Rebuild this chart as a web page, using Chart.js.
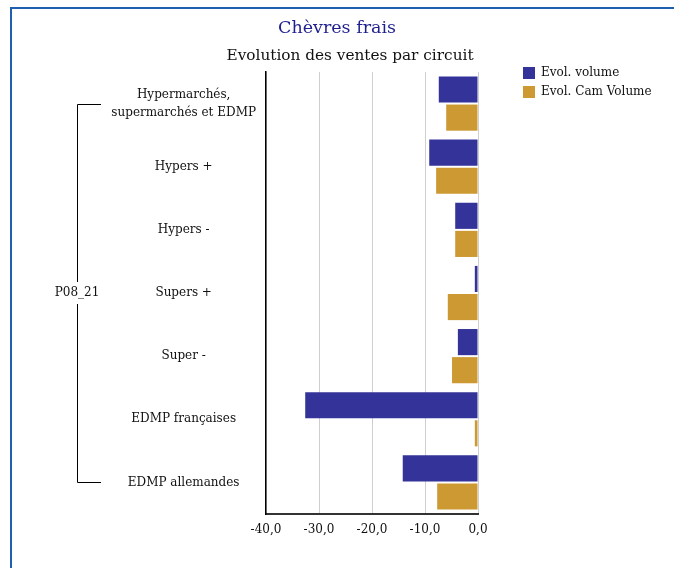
<!DOCTYPE html>
<html>
<head>
<meta charset="utf-8">
<script src="https://cdn.jsdelivr.net/npm/chart.js@4/dist/chart.umd.min.js"></script>
<style>
  html, body { margin: 0; padding: 0; background: #fff; }
  #c { display: block; }
</style>
</head>
<body>
<canvas id="c" width="674" height="568"></canvas>
<script>
const title = "Chèvres frais";
const subtitle = "Evolution des ventes par circuit";
const groupLabel = "P08_21";
const categories = [
  ["Hypermarchés,", "supermarchés et EDMP"],
  "Hypers +",
  "Hypers -",
  "Supers +",
  "Super -",
  "EDMP françaises",
  "EDMP allemandes"
];
const seriesNames = ["Evol. volume", "Evol. Cam Volume"];
const evolVolume = [-7.4, -9.2, -4.3, -0.6, -3.8, -32.6, -14.2];
const evolCamVolume = [-6.0, -7.9, -4.3, -5.7, -4.9, -0.6, -7.7];
const xTicks = [-40, -30, -20, -10, 0];

const FONT = "'DejaVu Serif', serif";

const decor = {
  id: 'decor',
  beforeDraw(chart) {
    const ctx = chart.ctx;
    ctx.save();
    ctx.fillStyle = '#fff';
    ctx.fillRect(0, 0, chart.width, chart.height);
    ctx.strokeStyle = '#1f5fb0';
    ctx.lineWidth = 2;
    ctx.beginPath();
    ctx.moveTo(11, chart.height);
    ctx.lineTo(11, 8);
    ctx.lineTo(chart.width, 8);
    ctx.stroke();
    ctx.restore();
  },
  afterDraw(chart) {
    const ctx = chart.ctx;
    ctx.save();
    ctx.textAlign = 'center';
    ctx.textBaseline = 'alphabetic';
    ctx.fillStyle = '#1f1f8f';
    ctx.font = "17.5px " + FONT;
    ctx.fillText(title, 337, 33);
    ctx.fillStyle = '#111';
    ctx.font = "15.3px " + FONT;
    ctx.fillText(subtitle, 350, 60);

    const colors = chart.data.datasets.map(d => d.backgroundColor);
    ctx.font = "12px " + FONT;
    ctx.textAlign = 'left';
    ctx.textBaseline = 'middle';
    chart.data.datasets.forEach((d, i) => {
      const y = 73 + i * 19;
      ctx.fillStyle = colors[i];
      ctx.fillRect(523, y - 6, 12, 12);
      ctx.fillStyle = '#111';
      ctx.fillText(d.label, 541, y);
    });

    const ys = chart.scales.y;
    const yTop = ys.getPixelForValue(0);
    const yBot = ys.getPixelForValue(categories.length - 1);
    const yMid = (yTop + yBot) / 2;
    const bx = 77.5;
    ctx.strokeStyle = '#000';
    ctx.lineWidth = 1;
    ctx.beginPath();
    ctx.moveTo(101, Math.round(yTop) + 0.5);
    ctx.lineTo(bx, Math.round(yTop) + 0.5);
    ctx.lineTo(bx, yMid - 11);
    ctx.moveTo(bx, yMid + 11);
    ctx.lineTo(bx, Math.round(yBot) + 0.5);
    ctx.lineTo(101, Math.round(yBot) + 0.5);
    ctx.stroke();
    ctx.fillStyle = '#111';
    ctx.textAlign = 'center';
    ctx.textBaseline = 'middle';
    ctx.font = "12px " + FONT;
    ctx.fillText(groupLabel, 77, yMid);
    ctx.restore();
  }
};

new Chart(document.getElementById('c'), {
  type: 'bar',
  data: {
    labels: categories,
    datasets: [
      { label: seriesNames[0], data: evolVolume, backgroundColor: '#333399', borderWidth: 0 },
      { label: seriesNames[1], data: evolCamVolume, backgroundColor: '#cc9933', borderWidth: 0 }
    ]
  },
  options: {
    indexAxis: 'y',
    responsive: false,
    animation: false,
    events: [],
    categoryPercentage: 0.89,
    barPercentage: 0.93,
    layout: { padding: { top: 72, left: 0, right: 196, bottom: 0 } },
    plugins: {
      legend: { display: false },
      title: { display: false },
      tooltip: { enabled: false }
    },
    scales: {
      x: {
        type: 'linear',
        min: xTicks[0],
        max: xTicks[xTicks.length - 1],
        afterBuildTicks(scale) { scale.ticks = xTicks.map(v => ({ value: v })); },
        afterFit(scale) { scale.height = 54; },
        grid: { display: true, color: '#cfcfcf', lineWidth: 1, drawTicks: false },
        border: { display: true, color: '#333', width: 2 },
        ticks: {
          padding: 9,
          color: '#111',
          font: { family: FONT, size: 12 },
          callback: v => Number(v).toFixed(1).replace('.', ',')
        }
      },
      y: {
        afterFit(scale) { scale.width = 266; },
        grid: { display: false, drawTicks: false },
        border: { display: true, color: '#000', width: 1.5 },
        ticks: {
          crossAlign: 'center',
          padding: 10,
          color: '#111',
          font: { family: FONT, size: 12, lineHeight: 1.5 }
        }
      }
    }
  },
  plugins: [decor]
});
</script>
</body>
</html>
